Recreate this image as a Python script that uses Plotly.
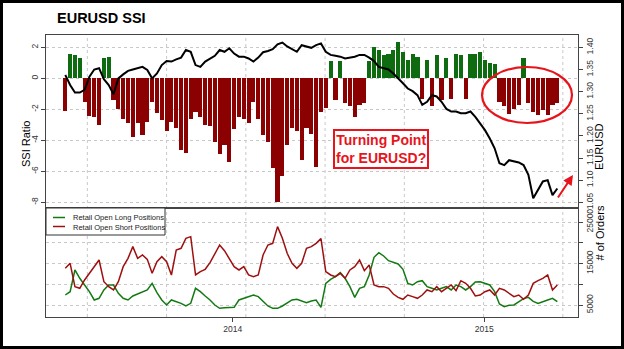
import pandas as pd
import plotly.graph_objects as go

# ---------------- data (weekly readings) ----------------
dates = pd.date_range("2013-05-03", periods=103, freq="7D")

ssi = [-2.1, 1.55, 1.5, 1.3, -1.5, -2.4, -2.5, -3.0, 1.3, 1.4,
       -1.4, -2.0, -2.6, -2.9, -3.8, -2.9, -3.65, -2.8, -1.5, -2.25,
       -2.7, -3.4, -2.8, -3.2, -4.6, -4.8, -2.6, -2.15, -2.5, -3.0,
       -3.1, -4.1, -4.9, -4.3, -5.4, -3.3, -2.5, -2.6, -2.9, -1.5,
       -2.6, -3.65, -4.1, -5.8, -8.0, -6.3, -4.3, -3.2, -3.4, -5.3,
       -3.2, -3.6, -5.7, -2.2, -1.9, 1.1, -1.4, 1.1, -1.6, -1.8,
       -2.5, -1.7, -1.6, 1.1, 2.0, 1.8, 1.5, 1.6, 1.8, 2.35,
       1.7, 1.2, 1.6, 1.4, -1.3, 1.2, -1.8, 1.5, -1.4, 1.3,
       -1.3, 1.6, 1.5, -1.3, 1.6, 1.6, 1.7, 1.2, 1.0, 0.9,
       -1.5, -1.8, -2.3, -2.0, -1.7, 1.3, -1.6, -2.15, -2.35, -2.05,
       -2.35, -1.7, -1.6]

eurusd = [1.3375, 1.315, 1.298, 1.298, 1.304, 1.334, 1.350, 1.353, 1.328, 1.315,
          1.294, 1.330, 1.339, 1.347, 1.350, 1.353, 1.356, 1.349, 1.330, 1.341,
          1.360, 1.369, 1.368, 1.373, 1.377, 1.394, 1.390, 1.360, 1.356, 1.368,
          1.374, 1.381, 1.394, 1.390, 1.398, 1.386, 1.379, 1.379, 1.375, 1.368,
          1.377, 1.389, 1.392, 1.396, 1.407, 1.411, 1.402, 1.396, 1.390, 1.405,
          1.402, 1.399, 1.405, 1.409, 1.390, 1.383, 1.381, 1.379, 1.375, 1.377,
          1.379, 1.383, 1.383, 1.377, 1.369, 1.356, 1.353, 1.350, 1.341, 1.331,
          1.319, 1.307, 1.301, 1.292, 1.270, 1.277, 1.292, 1.289, 1.277, 1.261,
          1.255, 1.255, 1.251, 1.251, 1.255, 1.243, 1.228, 1.213, 1.194, 1.172,
          1.138, 1.134, 1.145, 1.143, 1.140, 1.134, 1.112, 1.059, 1.078, 1.097,
          1.100, 1.066, 1.081]

longs = [7410, 8210, 13440, 11430, 9820, 8210, 6210, 6610, 8620, 9820,
         9820, 7810, 6610, 6210, 7170, 7650, 7970, 8620, 10220, 7970,
         6210, 5000, 6210, 5800, 5400, 4760, 5400, 9020, 8210, 7170,
         6210, 5000, 4200, 4360, 4440, 4440, 6210, 6610, 7170, 7410,
         7010, 5800, 4760, 4200, 4200, 4760, 5400, 6210, 6360, 5960,
         5560, 5960, 6210, 4440, 10220, 11190, 11830, 12790, 11430, 9420,
         6850, 9020, 9420, 12230, 16490, 17610, 16810, 15680, 15200, 14880,
         13600, 10220, 9820, 10620, 10860, 9420, 9020, 8620, 9020, 9420,
         8620, 9820, 9420, 8620, 9420, 10540, 10620, 10220, 9820, 8210,
         5240, 4600, 4920, 5000, 5720, 6530, 6850, 5880, 5400, 5720,
         6210, 6610, 5800]

shorts = [13840, 15040, 9420, 9020, 11030, 12630, 14240, 15840, 10620, 9420,
          8620, 10620, 14240, 16250, 19060, 16250, 17050, 16000, 12630, 15440,
          16650, 15440, 12230, 18250, 18660, 21070, 21470, 12230, 13030, 13600,
          15200, 17450, 19460, 18090, 16250, 14240, 13440, 14240, 12230, 11830,
          12230, 17050, 19460, 19860, 23880, 21070, 17450, 15040, 13840, 15040,
          18660, 19060, 19860, 21000, 13030, 12230, 11830, 12630, 11430, 13440,
          14240, 15840, 13270, 14640, 9820, 9420, 9420, 9020, 7650, 6850,
          6370, 7410, 7010, 6610, 7410, 8620, 8210, 9420, 8210, 9020,
          9820, 8450, 10860, 10220, 9020, 7170, 7410, 8210, 8620, 7410,
          9020, 8620, 7810, 7010, 7410, 6370, 7410, 10220, 10860, 11430,
          12230, 8620, 9820]

ssi_ticks = [-8, -6, -4, -2, 0, 2]
fx_ticks = [1.05, 1.10, 1.15, 1.20, 1.25, 1.30, 1.35, 1.40]
order_ticks = [5000, 10000, 15000, 20000, 25000]
order_labels = ["5000", "", "15000", "", "25000"]
year_ticks = ["2014-01-01", "2015-01-01"]
year_labels = ["2014", "2015"]

# ---------------- styling ----------------
FONT = "Liberation Sans, Arial, sans-serif"
GREEN_BAR = "#0f6b0f"
RED_BAR = "#8b0000"
GREEN_LINE = "#137a13"
RED_LINE = "#9e1010"
ANN_RED = "#e8141c"
GRID = "#c8c8c8"
AXC = "#444444"
TICKF = dict(family=FONT, size=8.5, color="#333333")

W, H = 624, 349
L, R, T, B = 46, 46, 35, 32
PW, PH = W - L - R, H - T - B
SPLIT = 208  # pixel row between panels


def px(x):
    return (x - L) / PW


def py(y):
    return (H - B - y) / PH


split = py(SPLIT)
bar_colors = [GREEN_BAR if v > 0 else RED_BAR for v in ssi]
DAY = 86400000

fig = go.Figure()
fig.add_trace(go.Bar(x=dates, y=ssi, width=6.0 * DAY,
                     marker=dict(color=bar_colors, line=dict(width=0)),
                     xaxis="x2", yaxis="y", showlegend=False))
fig.add_trace(go.Scatter(x=dates, y=eurusd, mode="lines",
                         line=dict(color="black", width=2),
                         xaxis="x2", yaxis="y2", showlegend=False))
fig.add_trace(go.Scatter(x=dates, y=longs, mode="lines",
                         line=dict(color=GREEN_LINE, width=1.5),
                         xaxis="x", yaxis="y3", showlegend=False))
fig.add_trace(go.Scatter(x=dates, y=shorts, mode="lines",
                         line=dict(color=RED_LINE, width=1.5),
                         xaxis="x", yaxis="y3", showlegend=False))

xr = ["2013-04-05", "2015-05-17"]
xcommon = dict(type="date", range=xr, showline=True, mirror=True,
               linecolor=AXC, linewidth=1, showgrid=False, zeroline=False,
               tickvals=year_ticks, ticktext=year_labels)

fig.update_layout(
    width=W, height=H,
    margin=dict(l=L, r=R, t=T, b=B),
    paper_bgcolor="white", plot_bgcolor="white",
    font=dict(family=FONT),
    showlegend=False,
    bargap=0,
    xaxis=dict(xcommon, domain=[0, 1], anchor="y3", ticks="outside",
               ticklen=4, tickcolor=AXC, tickfont=TICKF),
    xaxis2=dict(xcommon, domain=[0, 1], anchor="y", matches="x",
                showticklabels=False, ticks=""),
    yaxis=dict(domain=[split, 1], anchor="x2", range=[-8.37, 2.80],
               tickvals=ssi_ticks, ticktext=[str(v) for v in ssi_ticks],
               tickangle=-90, ticks="outside", ticklen=4, tickcolor=AXC,
               tickfont=TICKF, showgrid=True, gridcolor=GRID, griddash="dot",
               zeroline=False, showline=True, mirror=True, linecolor=AXC),
    yaxis2=dict(overlaying="y", side="right", anchor="x2",
                range=[1.037, 1.428], tickvals=fx_ticks,
                ticktext=["%.2f" % v for v in fx_ticks], tickangle=-90,
                ticks="outside", ticklen=4, tickcolor=AXC, tickfont=TICKF,
                showgrid=False, zeroline=False, showline=False),
    yaxis3=dict(domain=[0, split], anchor="x", side="right",
                range=[2108, 28373], tickvals=order_ticks,
                ticktext=order_labels, tickangle=-90,
                ticks="outside", ticklen=4, tickcolor=AXC, tickfont=TICKF,
                showgrid=True, gridcolor=GRID, griddash="dot",
                zeroline=False, showline=True, mirror=True, linecolor=AXC),
)

# vertical dotted grid lines (decoration)
grid_anchor = pd.Timestamp("2014-12-31")
shapes = []
for k in range(-6, 2):
    d = grid_anchor + pd.Timedelta(days=115 * k)
    if pd.Timestamp(xr[0]) < d < pd.Timestamp(xr[1]):
        shapes.append(dict(type="line", xref="x", yref="paper", x0=d, x1=d,
                           y0=0, y1=1, layer="below",
                           line=dict(color=GRID, width=1, dash="dot")))

# legend box (manual)
shapes.append(dict(type="rect", xref="paper", yref="paper",
                   x0=0, x1=px(165), y0=py(235), y1=py(SPLIT),
                   fillcolor="white", line=dict(color="#333333", width=1),
                   layer="above"))
for yy, col in [(217.5, GREEN_LINE), (226.5, RED_LINE)]:
    shapes.append(dict(type="line", xref="paper", yref="paper",
                       x0=px(53), x1=px(65), y0=py(yy), y1=py(yy),
                       line=dict(color=col, width=1.5), layer="above"))

# red ellipse
shapes.append(dict(type="circle", xref="paper", yref="paper",
                   x0=px(482), x1=px(572), y0=py(123), y1=py(67),
                   line=dict(color=ANN_RED, width=2.2)))

# outer frame
shapes.append(dict(type="rect", xref="paper", yref="paper",
                   x0=px(1.5), x1=px(622.5), y0=py(347.5), y1=py(1.5),
                   line=dict(color="black", width=3)))

fig.update_layout(shapes=shapes)

ann = [
    dict(text="<b>EURUSD SSI</b>", x=px(55), y=py(18), xanchor="left",
         yanchor="middle", font=dict(size=14.5, color="black", family=FONT)),
    dict(text="SSI Ratio", x=px(18), y=py(119), textangle=-90,
         font=dict(size=11, color="black", family=FONT)),
    dict(text="EURUSD", x=px(607), y=py(121.5), textangle=-90,
         font=dict(size=11, color="black", family=FONT)),
    dict(text="# of Orders", x=px(607), y=py(262.5), textangle=-90,
         font=dict(size=11, color="black", family=FONT)),
    dict(text="Retail Open Long Positions<br>Retail Open Short Positions",
         x=px(71), y=py(222), xanchor="left", yanchor="middle", align="left",
         font=dict(size=7.5, color="#222222", family=FONT)),
    dict(text="<b>Turning Point<br>for EURUSD?</b>", x=px(428.5), y=py(149),
         font=dict(size=14, color=ANN_RED, family=FONT),
         bordercolor=ANN_RED, borderwidth=2, borderpad=1, bgcolor="white"),
    dict(text="", x=px(573), y=py(175), ax=-16, ay=24, showarrow=True,
         arrowhead=2, arrowsize=1, arrowwidth=2, arrowcolor=ANN_RED),
]
for a in ann:
    a.setdefault("xref", "paper")
    a.setdefault("yref", "paper")
    a.setdefault("showarrow", False)
fig.update_layout(annotations=ann)

fig.write_html("out.html")
